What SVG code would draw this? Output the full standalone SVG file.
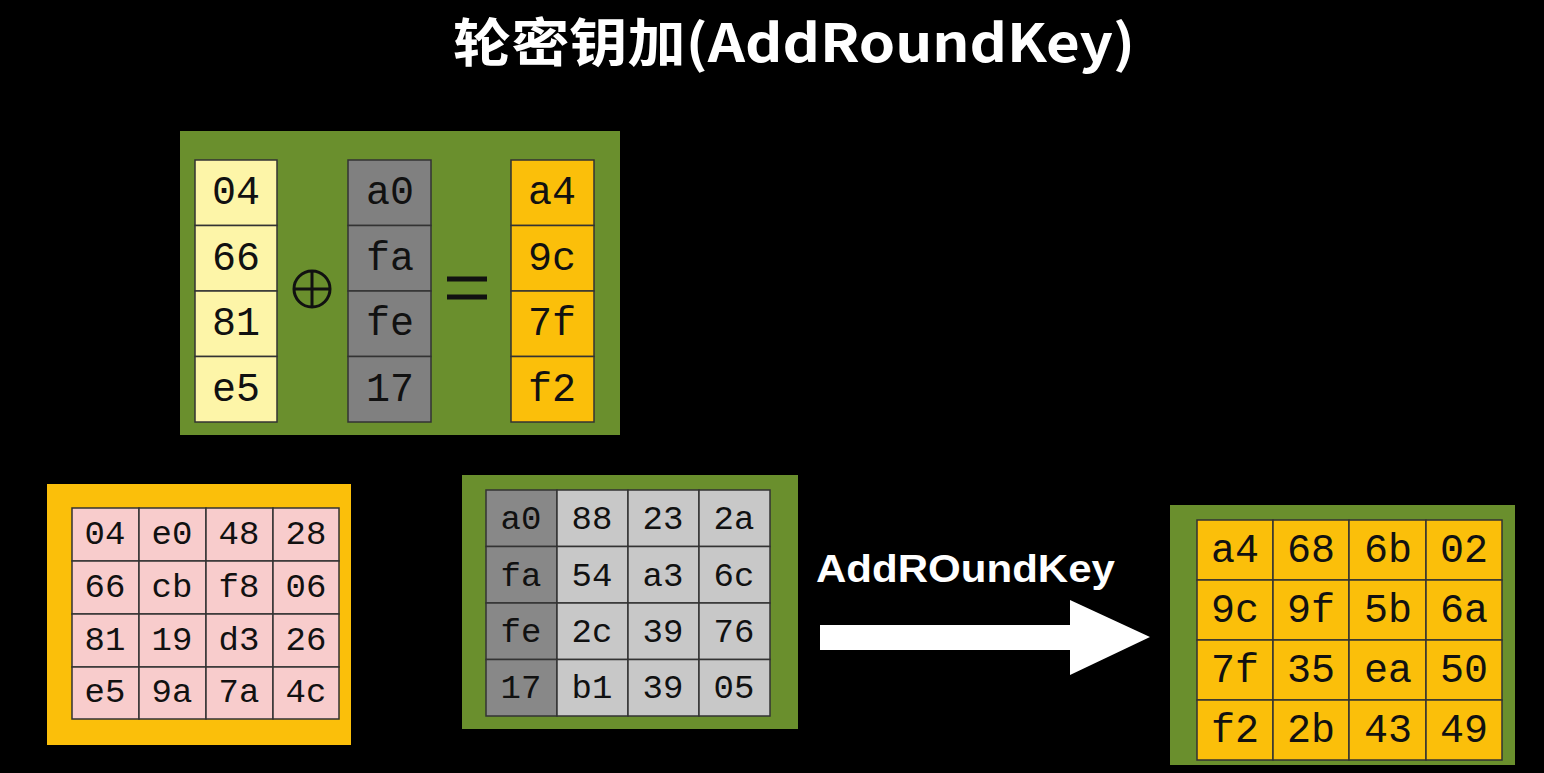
<svg xmlns="http://www.w3.org/2000/svg" width="1544" height="773" viewBox="0 0 1544 773">
<style>
.c{stroke:#333;stroke-width:1.5}
.t{font-family:"Liberation Mono",monospace;font-size:40px;fill:#111;text-anchor:middle;dominant-baseline:central}
.s{font-size:34px}
</style>
<rect width="1544" height="773" fill="#000"/>
<text x="453" y="62" textLength="682" lengthAdjust="spacingAndGlyphs" font-family="Noto Sans CJK SC,Liberation Sans,sans-serif" font-weight="bold" font-size="52" fill="#fff">轮密钥加(AddRoundKey)</text>
<g id="column-xor">
<rect x="180" y="131" width="440" height="304" fill="#6a8f2d"/>
<g class="c">
<rect x="195" y="160" width="82" height="65.5" fill="#fdf5a8"/><rect x="195" y="225.5" width="82" height="65.5" fill="#fdf5a8"/><rect x="195" y="291" width="82" height="65.5" fill="#fdf5a8"/><rect x="195" y="356.5" width="82" height="65.5" fill="#fdf5a8"/>
<rect x="348" y="160" width="83" height="65.5" fill="#808080"/><rect x="348" y="225.5" width="83" height="65.5" fill="#808080"/><rect x="348" y="291" width="83" height="65.5" fill="#808080"/><rect x="348" y="356.5" width="83" height="65.5" fill="#808080"/>
<rect x="511" y="160" width="83" height="65.5" fill="#fbbf0a"/><rect x="511" y="225.5" width="83" height="65.5" fill="#fbbf0a"/><rect x="511" y="291" width="83" height="65.5" fill="#fbbf0a"/><rect x="511" y="356.5" width="83" height="65.5" fill="#fbbf0a"/>
</g>
<g class="t">
<text x="236" y="193">04</text><text x="236" y="259">66</text><text x="236" y="324">81</text><text x="236" y="390">e5</text>
<text x="390" y="193">a0</text><text x="390" y="259">fa</text><text x="390" y="324">fe</text><text x="390" y="390">17</text>
<text x="552" y="193">a4</text><text x="552" y="259">9c</text><text x="552" y="324">7f</text><text x="552" y="390">f2</text>
</g>
<circle cx="312" cy="289" r="18" fill="none" stroke="#111" stroke-width="3"/>
<path d="M294 289H330M312 271V307" stroke="#111" stroke-width="3"/>
<path d="M447 279H487M447 297H487" stroke="#111" stroke-width="5"/>
</g>
<g id="state">
<rect x="47" y="484" width="304" height="261" fill="#fbbf0a"/>
<g class="c" fill="#f8cccc">
<rect x="72" y="508" width="67" height="53"/><rect x="139" y="508" width="67" height="53"/><rect x="206" y="508" width="67" height="53"/><rect x="273" y="508" width="66" height="53"/>
<rect x="72" y="561" width="67" height="53"/><rect x="139" y="561" width="67" height="53"/><rect x="206" y="561" width="67" height="53"/><rect x="273" y="561" width="66" height="53"/>
<rect x="72" y="614" width="67" height="53"/><rect x="139" y="614" width="67" height="53"/><rect x="206" y="614" width="67" height="53"/><rect x="273" y="614" width="66" height="53"/>
<rect x="72" y="667" width="67" height="52"/><rect x="139" y="667" width="67" height="52"/><rect x="206" y="667" width="67" height="52"/><rect x="273" y="667" width="66" height="52"/>
</g>
<g class="t s">
<text x="105" y="535">04</text><text x="172" y="535">e0</text><text x="239" y="535">48</text><text x="306" y="535">28</text>
<text x="105" y="588">66</text><text x="172" y="588">cb</text><text x="239" y="588">f8</text><text x="306" y="588">06</text>
<text x="105" y="641">81</text><text x="172" y="641">19</text><text x="239" y="641">d3</text><text x="306" y="641">26</text>
<text x="105" y="693">e5</text><text x="172" y="693">9a</text><text x="239" y="693">7a</text><text x="306" y="693">4c</text>
</g>
</g>
<g id="roundkey">
<rect x="462" y="475" width="336" height="254" fill="#6a8f2d"/>
<g class="c">
<rect x="486" y="490" width="71" height="56.5" fill="#888"/><rect x="557" y="490" width="71" height="56.5" fill="#c8c8c8"/><rect x="628" y="490" width="71" height="56.5" fill="#c8c8c8"/><rect x="699" y="490" width="71" height="56.5" fill="#c8c8c8"/>
<rect x="486" y="546.5" width="71" height="56.5" fill="#888"/><rect x="557" y="546.5" width="71" height="56.5" fill="#c8c8c8"/><rect x="628" y="546.5" width="71" height="56.5" fill="#c8c8c8"/><rect x="699" y="546.5" width="71" height="56.5" fill="#c8c8c8"/>
<rect x="486" y="603" width="71" height="56.5" fill="#888"/><rect x="557" y="603" width="71" height="56.5" fill="#c8c8c8"/><rect x="628" y="603" width="71" height="56.5" fill="#c8c8c8"/><rect x="699" y="603" width="71" height="56.5" fill="#c8c8c8"/>
<rect x="486" y="659.5" width="71" height="56.5" fill="#888"/><rect x="557" y="659.5" width="71" height="56.5" fill="#c8c8c8"/><rect x="628" y="659.5" width="71" height="56.5" fill="#c8c8c8"/><rect x="699" y="659.5" width="71" height="56.5" fill="#c8c8c8"/>
</g>
<g class="t s">
<text x="521" y="520">a0</text><text x="592" y="520">88</text><text x="663" y="520">23</text><text x="734" y="520">2a</text>
<text x="521" y="577">fa</text><text x="592" y="577">54</text><text x="663" y="577">a3</text><text x="734" y="577">6c</text>
<text x="521" y="633">fe</text><text x="592" y="633">2c</text><text x="663" y="633">39</text><text x="734" y="633">76</text>
<text x="521" y="689">17</text><text x="592" y="689">b1</text><text x="663" y="689">39</text><text x="734" y="689">05</text>
</g>
</g>
<g id="connectors">
<text x="816" y="582" textLength="299" lengthAdjust="spacingAndGlyphs" font-family="Liberation Sans,Arial,sans-serif" font-weight="bold" font-size="38" fill="#fff">AddROundKey</text>
<path d="M820 625H1070V600L1150 637L1070 675V650H820Z" fill="#fff"/>
</g>
<g id="result">
<rect x="1170" y="505" width="345" height="260" fill="#6a8f2d"/>
<g class="c" fill="#fbbf0a">
<rect x="1197" y="520" width="76" height="60"/><rect x="1273" y="520" width="76" height="60"/><rect x="1349" y="520" width="77" height="60"/><rect x="1426" y="520" width="76" height="60"/>
<rect x="1197" y="580" width="76" height="60"/><rect x="1273" y="580" width="76" height="60"/><rect x="1349" y="580" width="77" height="60"/><rect x="1426" y="580" width="76" height="60"/>
<rect x="1197" y="640" width="76" height="60"/><rect x="1273" y="640" width="76" height="60"/><rect x="1349" y="640" width="77" height="60"/><rect x="1426" y="640" width="76" height="60"/>
<rect x="1197" y="700" width="76" height="60"/><rect x="1273" y="700" width="76" height="60"/><rect x="1349" y="700" width="77" height="60"/><rect x="1426" y="700" width="76" height="60"/>
</g>
<g class="t">
<text x="1235" y="551">a4</text><text x="1311" y="551">68</text><text x="1388" y="551">6b</text><text x="1464" y="551">02</text>
<text x="1235" y="611">9c</text><text x="1311" y="611">9f</text><text x="1388" y="611">5b</text><text x="1464" y="611">6a</text>
<text x="1235" y="671">7f</text><text x="1311" y="671">35</text><text x="1388" y="671">ea</text><text x="1464" y="671">50</text>
<text x="1235" y="731">f2</text><text x="1311" y="731">2b</text><text x="1388" y="731">43</text><text x="1464" y="731">49</text>
</g>
</g>
</svg>
